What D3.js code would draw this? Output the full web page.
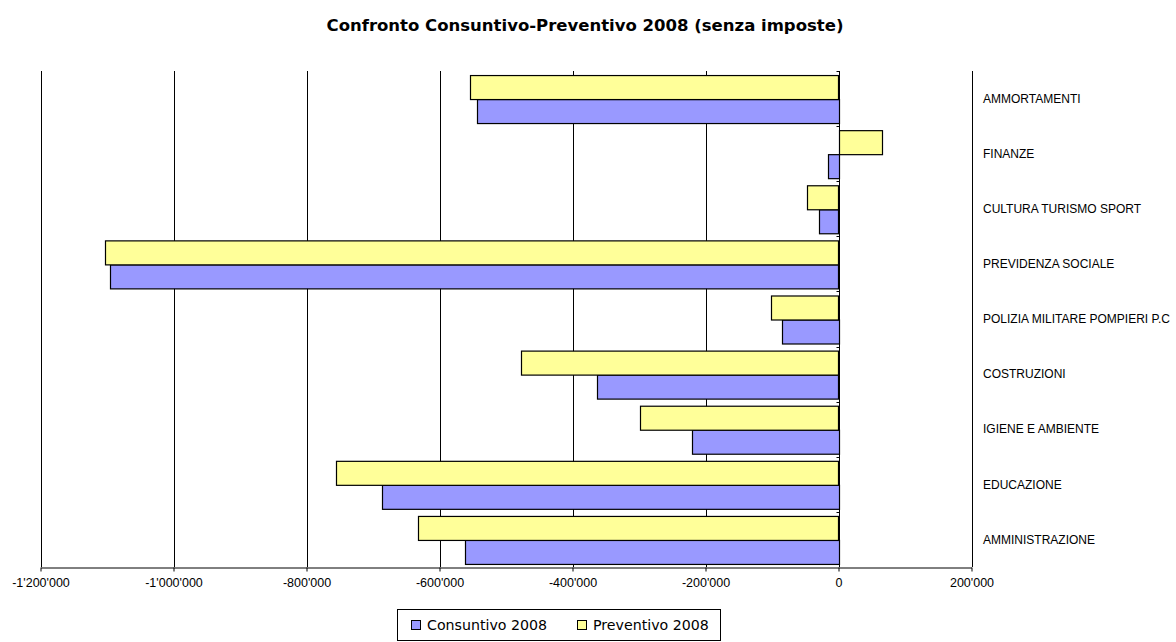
<!DOCTYPE html>
<html>
<head>
<meta charset="utf-8">
<script src="https://cdn.jsdelivr.net/npm/d3@7"></script>
<style>
  body { margin: 0; background: #fff; }
  svg { display: block; }
</style>
</head>
<body>
<svg width="1176" height="642"></svg>
<script>
(function (d3) {
  'use strict';

  // categories from top to bottom, as in the chart
  var categories = [
    'AMMORTAMENTI',
    'FINANZE',
    'CULTURA TURISMO SPORT',
    'PREVIDENZA SOCIALE',
    'POLIZIA MILITARE POMPIERI P.C',
    'COSTRUZIONI',
    'IGIENE E AMBIENTE',
    'EDUCAZIONE',
    'AMMINISTRAZIONE'
  ];
  var seriesNames = ['Consuntivo 2008', 'Preventivo 2008'];
  var consuntivo = [-544000, -16000, -29000, -1095000, -85000, -363000, -221000, -687000, -562000];
  var preventivo = [-554000, 64000, -47000, -1103000, -101000, -477000, -298000, -755000, -632000];
  var xTicks = [-1200000, -1000000, -800000, -600000, -400000, -200000, 0, 200000];
  var title = 'Confronto Consuntivo-Preventivo 2008 (senza imposte)';

  var colors = { 'Consuntivo 2008': '#9999ff', 'Preventivo 2008': '#ffff99' };

  var locale = d3.formatLocale({ decimal: '.', thousands: "'", grouping: [3], currency: ['', ''], minus: '-' });
  var fmt = locale.format(',');

  var svg = d3.select('svg');

  var x = d3.scaleLinear().domain([-1200000, 200000]).range([40.5, 971.5]);
  var y = d3.scaleBand().domain(categories).range([71, 567])
    .paddingInner(0.147).paddingOuter(0.0735);
  // preventivo sits above consuntivo inside each band
  var ySub = d3.scaleBand().domain(['Preventivo 2008', 'Consuntivo 2008']).range([0, y.bandwidth()]);

  var rows = categories.map(function (c, i) {
    return { cat: c, values: [
      { name: 'Consuntivo 2008', v: consuntivo[i] },
      { name: 'Preventivo 2008', v: preventivo[i] }
    ] };
  });

  // vertical gridlines
  svg.append('g')
    .selectAll('line').data(xTicks.filter(function (t) { return t !== 0; }))
    .enter().append('line')
      .attr('x1', function (d) { return Math.round(x(d)) + 0.5; })
      .attr('x2', function (d) { return Math.round(x(d)) + 0.5; })
      .attr('y1', 71).attr('y2', 567)
      .attr('stroke', '#000').attr('stroke-width', 1);

  // bars
  var g = svg.append('g');
  g.selectAll('g').data(rows)
    .enter().append('g')
      .attr('transform', function (d) { return 'translate(0,' + y(d.cat) + ')'; })
    .selectAll('rect').data(function (d) { return d.values; })
    .enter().append('rect')
      .attr('x', function (d) { return Math.round(x(Math.min(0, d.v))) + 0.5; })
      .attr('y', function (d) { return Math.round(ySub(d.name)) + 0.5; })
      .attr('width', function (d) { return Math.round(Math.abs(x(d.v) - x(0))); })
      .attr('height', function (d) { return Math.round(ySub.bandwidth()); })
      .attr('fill', function (d) { return colors[d.name]; })
      .attr('stroke', '#000').attr('stroke-width', 1.2);

  // x axis
  var xAxis = d3.axisBottom(x).tickValues(xTicks).tickFormat(fmt).tickSize(4).tickSizeOuter(0);
  var xg = svg.append('g').attr('transform', 'translate(0,567.5)').call(xAxis);
  xg.select('.domain').attr('stroke', '#000');
  xg.selectAll('.tick line').attr('stroke', '#000');
  xg.selectAll('.tick text')
    .attr('y', 11)
    .attr('font-family', 'Liberation Sans, Arial, sans-serif')
    .attr('font-size', 12.5).attr('fill', '#000');

  // zero axis with small ticks on band borders
  var zx = Math.round(x(0)) + 0.5;
  svg.append('line')
    .attr('x1', zx).attr('x2', zx).attr('y1', 71).attr('y2', 567)
    .attr('stroke', '#000');
  var borders = categories.map(function (c) { return y(c) - y.step() * y.paddingInner() / 2; });
  svg.append('g').selectAll('line').data(borders)
    .enter().append('line')
      .attr('x1', zx - 3).attr('x2', zx)
      .attr('y1', function (d) { return Math.round(d) + 0.5; })
      .attr('y2', function (d) { return Math.round(d) + 0.5; })
      .attr('stroke', '#000');

  // category labels on the right
  svg.append('g').selectAll('text').data(categories)
    .enter().append('text')
      .attr('x', 983)
      .attr('y', function (d) { return y(d) + y.bandwidth() / 2; })
      .attr('dy', '0.35em')
      .attr('font-family', 'Liberation Sans, Arial, sans-serif')
      .attr('font-size', 12)
      .text(function (d) { return d; });

  // title
  svg.append('text')
    .attr('x', 585).attr('y', 31)
    .attr('text-anchor', 'middle')
    .attr('font-family', 'DejaVu Sans, Verdana, sans-serif')
    .attr('font-weight', 'bold').attr('font-size', 16.5)
    .text(title);

  // legend
  var lg = svg.append('g').attr('transform', 'translate(397,609)');
  lg.append('rect').attr('x', 0.5).attr('y', 0.5).attr('width', 323).attr('height', 31)
    .attr('fill', '#fff').attr('stroke', '#000');
  var legendX = [14, 180];
  var items = lg.selectAll('g.item').data(seriesNames)
    .enter().append('g').attr('class', 'item')
      .attr('transform', function (d, i) { return 'translate(' + legendX[i] + ',0)'; });
  items.append('rect')
    .attr('x', 0.5).attr('y', 11.5).attr('width', 9).attr('height', 9)
    .attr('fill', function (d) { return colors[d]; })
    .attr('stroke', '#000');
  items.append('text')
    .attr('x', 16).attr('y', 16).attr('dy', '0.35em')
    .attr('font-family', 'DejaVu Sans, Verdana, sans-serif')
    .attr('font-size', 14.2)
    .text(function (d) { return d; });

}(d3));
</script>
</body>
</html>
